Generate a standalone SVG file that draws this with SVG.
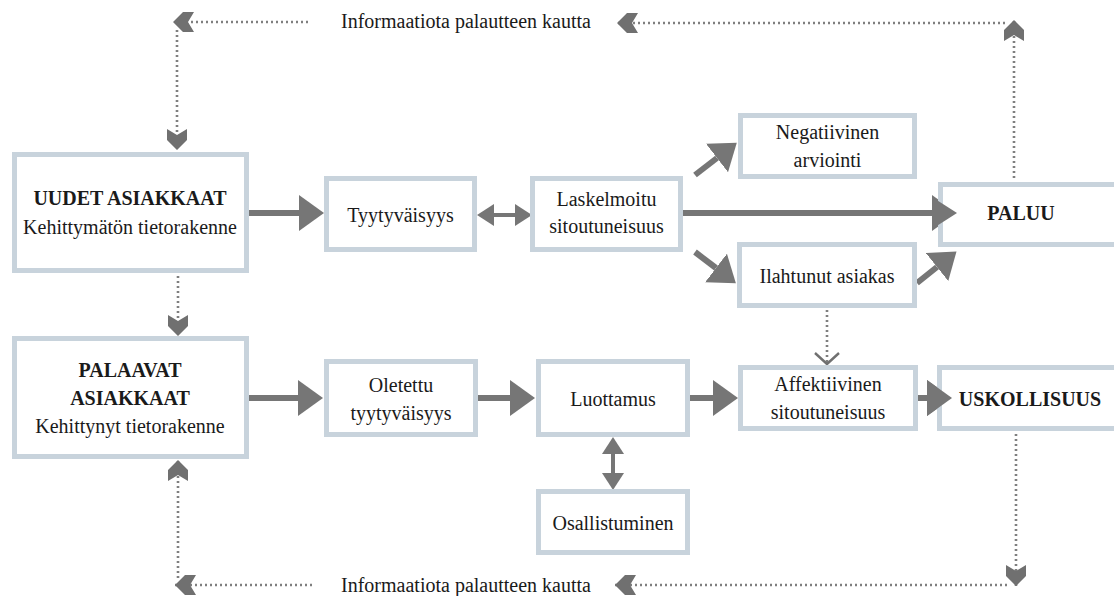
<svg xmlns="http://www.w3.org/2000/svg" width="1114" height="596" viewBox="0 0 1114 596">
  <style>
    .box { fill: #ffffff; stroke: #c8d3dc; stroke-width: 5; }
    .lbl { font-size: 20px; fill: #1a1a1a; text-anchor: middle; }
    .b { font-weight: bold; }
    .thick { stroke: #767676; stroke-width: 6; fill: none; }
    .thin { stroke: #767676; stroke-width: 4; fill: none; }
    .dot { stroke: #7f7f7f; stroke-width: 2.6; stroke-dasharray: 2 3; fill: none; }
  </style>
  <defs>
    <!-- large solid head, placed at the line end (base of the triangle) -->
    <marker id="head" markerUnits="userSpaceOnUse" viewBox="0 -18 25 36" markerWidth="25" markerHeight="36" refX="0" refY="0" orient="auto">
      <path d="M0,-18 L25,0 L0,18 Z" fill="#767676"/>
    </marker>
    <!-- small solid head for two-way links -->
    <marker id="small" markerUnits="userSpaceOnUse" viewBox="0 -11 17 22" markerWidth="17" markerHeight="22" refX="0" refY="0" orient="auto-start-reverse">
      <path d="M0,-11 L17,0 L0,11 Z" fill="#767676"/>
    </marker>
    <!-- notched chevron for the feedback loops -->
    <marker id="chev" markerUnits="userSpaceOnUse" viewBox="-21 -10 21 20" markerWidth="21" markerHeight="20" refX="0" refY="0" orient="auto">
      <path d="M0,0 L-10,-10 L-21,-10 L-15,0 L-21,10 L-10,10 Z" fill="#707070"/>
    </marker>
    <!-- open V head -->
    <marker id="vee" markerUnits="userSpaceOnUse" viewBox="-13 -14 15 28" markerWidth="15" markerHeight="28" refX="0" refY="0" orient="auto">
      <path d="M-11,-12 L0,0 L-11,12" fill="none" stroke="#707070" stroke-width="2.4"/>
    </marker>
  </defs>

  <!-- connectors -->
  <g id="connectors">
    <!-- main flows -->
    <line class="thick" x1="249" y1="213" x2="299" y2="213" marker-end="url(#head)"/>
    <line class="thick" x1="683" y1="213" x2="932" y2="213" marker-end="url(#head)"/>
    <line class="thick" x1="695" y1="175" x2="717" y2="158" marker-end="url(#head)"/>
    <line class="thick" x1="695" y1="252" x2="716" y2="268" marker-end="url(#head)"/>
    <line class="thick" x1="917" y1="283" x2="937" y2="267" marker-end="url(#head)"/>
    <line class="thick" x1="249" y1="398" x2="298" y2="398" marker-end="url(#head)"/>
    <line class="thick" x1="478" y1="398" x2="510" y2="398" marker-end="url(#head)"/>
    <line class="thick" x1="690" y1="398" x2="713" y2="398" marker-end="url(#head)"/>
    <line class="thick" x1="918" y1="398" x2="927" y2="398" marker-end="url(#head)"/>
    <!-- two-way links -->
    <line class="thin" x1="494" y1="215" x2="515" y2="215" marker-start="url(#small)" marker-end="url(#small)"/>
    <line class="thin" x1="613" y1="454" x2="613" y2="473" marker-start="url(#small)" marker-end="url(#small)"/>
    <!-- dotted link between the two right-hand nodes -->
    <line class="dot" x1="827" y1="310" x2="827" y2="364" marker-end="url(#vee)"/>

    <!-- upper feedback loop -->
    <line class="dot" x1="1014" y1="178" x2="1014" y2="20" marker-end="url(#chev)"/>
    <line class="dot" x1="1005" y1="23" x2="617" y2="23" marker-end="url(#chev)"/>
    <line class="dot" x1="308" y1="22" x2="173" y2="22" marker-end="url(#chev)"/>
    <line class="dot" x1="177" y1="30" x2="177" y2="150" marker-end="url(#chev)"/>
    <!-- between the two customer groups -->
    <line class="dot" x1="178" y1="276" x2="178" y2="336" marker-end="url(#chev)"/>

    <!-- lower feedback loop -->
    <line class="dot" x1="1016" y1="434" x2="1016" y2="586" marker-end="url(#chev)"/>
    <line class="dot" x1="1007" y1="585" x2="615" y2="585" marker-end="url(#chev)"/>
    <line class="dot" x1="312" y1="585" x2="175" y2="585" marker-end="url(#chev)"/>
    <line class="dot" x1="178" y1="578" x2="178" y2="460" marker-end="url(#chev)"/>
  </g>

  <g font-family="'Liberation Serif', 'DejaVu Serif', serif">
  <text class="lbl" x="466" y="28">Informaatiota palautteen kautta</text>
  <text class="lbl" x="466" y="592">Informaatiota palautteen kautta</text>

  <g id="uudet">
    <rect class="box" x="14.5" y="154.5" width="232" height="116"/>
    <text class="lbl b" x="130" y="205">UUDET ASIAKKAAT</text>
    <text class="lbl" x="130" y="234">Kehittymätön tietorakenne</text>
  </g>
  <g id="tyytyvaisyys">
    <rect class="box" x="326.5" y="178.5" width="148" height="71"/>
    <text class="lbl" x="400.5" y="222">Tyytyväisyys</text>
  </g>
  <g id="laskelmoitu">
    <rect class="box" x="532.5" y="178.5" width="148" height="71"/>
    <text class="lbl" x="606.5" y="206">Laskelmoitu</text>
    <text class="lbl" x="606.5" y="233">sitoutuneisuus</text>
  </g>
  <g id="negatiivinen">
    <rect class="box" x="740.5" y="115.5" width="174" height="61"/>
    <text class="lbl" x="827.5" y="139">Negatiivinen</text>
    <text class="lbl" x="827.5" y="167">arviointi</text>
  </g>
  <g id="paluu">
    <rect class="box" x="940.5" y="184.5" width="180" height="60"/>
    <text class="lbl b" x="1021" y="220">PALUU</text>
  </g>
  <g id="ilahtunut">
    <rect class="box" x="739.5" y="244.5" width="175" height="61"/>
    <text class="lbl" x="827" y="283">Ilahtunut asiakas</text>
  </g>
  <g id="palaavat">
    <rect class="box" x="14.5" y="338.5" width="232" height="118"/>
    <text class="lbl b" x="130" y="377">PALAAVAT</text>
    <text class="lbl b" x="130" y="405">ASIAKKAAT</text>
    <text class="lbl" x="130" y="433">Kehittynyt tietorakenne</text>
  </g>
  <g id="oletettu">
    <rect class="box" x="326.5" y="361.5" width="149" height="73"/>
    <text class="lbl" x="401" y="392">Oletettu</text>
    <text class="lbl" x="401" y="420">tyytyväisyys</text>
  </g>
  <g id="luottamus">
    <rect class="box" x="538.5" y="361.5" width="149" height="73"/>
    <text class="lbl" x="613" y="406">Luottamus</text>
  </g>
  <g id="affektiivinen">
    <rect class="box" x="740.5" y="367.5" width="175" height="61"/>
    <text class="lbl" x="828" y="391">Affektiivinen</text>
    <text class="lbl" x="828" y="419">sitoutuneisuus</text>
  </g>
  <g id="uskollisuus">
    <rect class="box" x="939.5" y="367.5" width="180" height="61"/>
    <text class="lbl b" x="1030" y="406">USKOLLISUUS</text>
  </g>
  <g id="osallistuminen">
    <rect class="box" x="538.5" y="491.5" width="149" height="61"/>
    <text class="lbl" x="613" y="530">Osallistuminen</text>
  </g>
  </g>

  <!-- heads that sit over the node borders -->
  <g id="overlays">
    <path d="M932,197 L957,213 L932,229 Z" fill="#767676"/>
    <path d="M927,380 L952,398 L927,416 Z" fill="#767676"/>
  </g>
</svg>
